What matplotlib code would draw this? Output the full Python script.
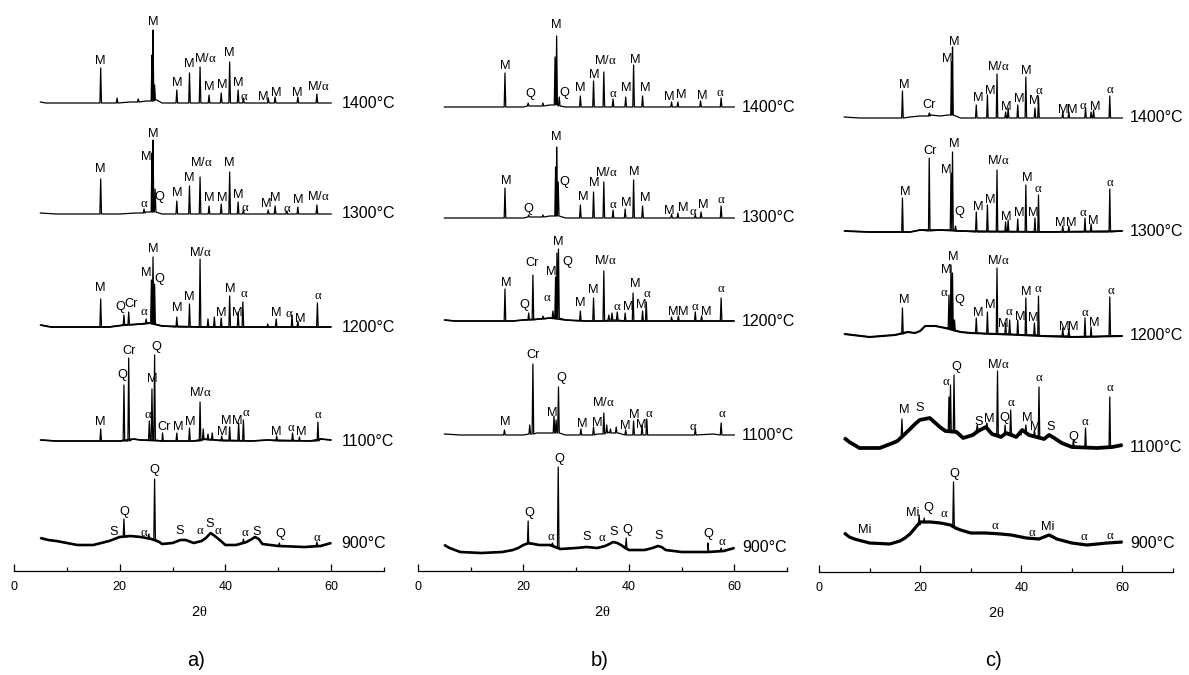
import numpy as np
import matplotlib
matplotlib.use('Agg')
import matplotlib.pyplot as plt

plt.rcParams['font.family'] = ['Liberation Sans', 'DejaVu Sans']
plt.rcParams['mathtext.fontset'] = 'custom'
plt.rcParams['mathtext.rm'] = 'Liberation Serif'
plt.rcParams['mathtext.it'] = 'Liberation Serif'

TEMPS = ['1400°C', '1300°C', '1200°C', '1100°C', '900°C']

# ---- sample a) ----
# background points (2theta, counts), peaks (2theta, foot, top), labels (text, 2theta, height)
A_1400_BG = [(5, 1), (6, 0), (15, 0), (19, 0), (22, 1), (25, 2), (27, 3), (28, 0), (45, 0), (60, 0)]
A_1400_PK = [(16.4, 0, 35), (19.5, 0, 5), (23.5, 1, 4), (26.1, 2, 48), (26.3, 2, 73), (26.6, 3, 18),
             (30.8, 0, 13), (33.2, 0, 30), (35.2, 0, 36), (36.9, 0, 8), (39.2, 0, 10), (40.8, 0, 41),
             (42.4, 0, 13), (43.4, 0, 5), (48.1, 0, 5), (49.4, 0, 6), (53.7, 0, 6), (57.3, 0, 9)]
A_1400_LB = [('M', 16.3, 42), ('M', 26.3, 81), ('M', 30.8, 20), ('M', 33.1, 39), ('M/α', 36.2, 45),
             ('M', 37.0, 16), ('M', 39.4, 18), ('M', 40.8, 50), ('M', 42.5, 20), ('α', 43.5, 6),
             ('M', 47.2, 6), ('M', 49.7, 10), ('M', 53.5, 10), ('M/α', 57.6, 16)]

A_1300_BG = [(5, 1), (8, 0), (20, 0), (23, 1), (25, 2), (28, 0), (60, 0)]
A_1300_PK = [(16.4, 0, 35), (24.6, 1, 5), (26.1, 2, 61), (26.3, 2, 74), (26.7, 2, 25), (30.8, 0, 13),
             (33.2, 0, 28), (35.2, 0, 37), (36.9, 0, 8), (39.2, 0, 10), (40.8, 0, 42), (42.4, 0, 12),
             (43.4, 0, 4), (48.1, 0, 4), (49.4, 0, 8), (51.6, 0, 3), (53.7, 0, 7), (57.3, 0, 9)]
A_1300_LB = [('M', 16.3, 45), ('α', 24.6, 10), ('M', 25.1, 57), ('M', 26.4, 80), ('Q', 27.5, 17),
             ('M', 30.8, 21), ('M', 33.2, 36), ('M/α', 35.4, 51), ('M', 37.0, 16), ('M', 39.4, 16),
             ('M', 40.8, 51), ('M', 42.5, 19), ('α', 43.7, 6), ('M', 47.7, 10), ('M', 49.4, 16),
             ('α', 51.6, 5), ('M', 53.7, 14), ('M/α', 57.6, 17)]

A_1200_BG = [(5, 2), (7, 0), (18, 0), (21, 2), (24, 3), (25.5, 4), (28, 1), (35, 0), (45, 0), (60, 0)]
A_1200_PK = [(16.4, 0, 28), (20.8, 2, 12), (21.7, 2, 15), (25.0, 3, 8), (26.0, 4, 47), (26.3, 4, 70),
             (26.6, 3, 43), (30.8, 0, 10), (33.2, 0, 23), (35.2, 0, 68), (36.7, 0, 8), (37.9, 0, 10),
             (39.2, 0, 9), (40.8, 0, 31), (42.4, 0, 15), (43.3, 0, 25), (48.0, 0, 3), (49.6, 0, 8),
             (52.6, 0, 12), (53.7, 0, 6), (57.4, 0, 24)]
A_1200_LB = [('M', 16.4, 39), ('Q', 20.1, 20), ('Cr', 22.2, 23), ('α', 24.6, 15), ('M', 25.1, 54),
             ('M', 26.4, 78), ('Q', 27.5, 48), ('M', 30.8, 19), ('M', 33.2, 30), ('M/α', 35.3, 75),
             ('M', 39.3, 14), ('M', 40.9, 38), ('M', 42.2, 14), ('α', 43.5, 33), ('M', 49.7, 14),
             ('α', 52.0, 13), ('M', 54.2, 8), ('α', 57.6, 31)]

A_1100_BG = [(5, 1), (8, 0), (20, 0), (22.5, 2), (24, 1), (28, 0), (34, 0), (36, 2), (38, 1),
             (45, 0), (48, 1), (56, 0), (58, 2), (60, 1)]
A_1100_PK = [(16.4, 0, 12), (20.8, 0, 56), (21.7, 0, 83), (25.6, 1, 20), (26.1, 1, 52), (26.6, 1, 86),
             (28.1, 0, 8), (30.8, 0, 8), (33.2, 0, 13), (35.2, 0, 39), (35.8, 1, 12), (36.7, 1, 7),
             (37.5, 1, 8), (39.3, 0, 5), (40.8, 0, 14), (42.5, 0, 18), (43.4, 0, 21), (49.7, 0, 5),
             (52.7, 0, 8), (54.0, 0, 4), (57.5, 0, 19)]
A_1100_LB = [('M', 16.4, 19), ('Q', 20.5, 66), ('Cr', 21.7, 90), ('α', 25.3, 26), ('M', 26.1, 62),
             ('Q', 26.9, 94), ('Cr', 28.3, 14), ('M', 31.0, 14), ('M', 33.3, 19), ('M/α', 35.3, 48),
             ('M', 39.4, 9), ('M', 40.2, 20), ('M', 42.3, 20), ('α', 44.0, 28), ('M', 49.7, 9),
             ('α', 52.5, 13), ('M', 54.4, 9), ('α', 57.6, 26)]

A_900_BG = [(5, 5), (6.5, 3), (8, 2), (10, 0), (12, -2), (15, -2), (16.5, 0), (18, 2), (19, 4), (20, 6),
            (22, 7), (24, 6), (26, 4), (27.5, 1), (28, -1), (30, 0), (31.5, 3), (32.5, 3), (34, 0),
            (35.5, 2), (36.3, 5), (37.2, 10), (38, 7), (38.7, 4), (40, -2), (42, -2), (44, 1), (45, 4),
            (45.6, 6), (46.3, 4), (47, -1), (50, -3), (55, -4), (58, -3), (60, 0)]
A_900_PK = [(20.8, 6, 24), (25.5, 5, 9), (26.6, 4, 64), (43.4, 0, 4), (50.2, -3, 0), (57.3, -3, 1)]
A_900_LB = [('S', 18.9, 11), ('Q', 20.8, 31), ('α', 24.6, 10), ('Q', 26.6, 73), ('S', 31.3, 12),
            ('α', 35.2, 12), ('S', 37.0, 19), ('α', 38.7, 12), ('α', 43.7, 10), ('S', 45.9, 11),
            ('Q', 50.4, 9), ('α', 57.3, 5)]

# ---- sample b) ----
B_1400_BG = [(5, 0), (20, 0), (22, 1), (25, 2), (28, 0), (60, 0)]
B_1400_PK = [(16.5, 0, 34), (20.9, 1, 4), (23.7, 1, 4), (26.0, 2, 50), (26.3, 2, 71), (26.8, 1, 10),
             (30.8, 0, 11), (33.3, 0, 26), (35.25, 0, 35), (37.0, 0, 8), (39.4, 0, 10), (40.9, 0, 42),
             (42.6, 0, 11), (48.1, 0, 5), (49.3, 0, 5), (53.6, 0, 6), (57.5, 0, 9)]
B_1400_LB = [('M', 16.6, 41), ('Q', 21.3, 13), ('M', 26.3, 82), ('Q', 27.7, 14), ('M', 30.8, 19),
             ('M', 33.5, 32), ('M/α', 35.6, 47), ('α', 37.1, 13), ('M', 39.5, 19), ('M', 41.2, 47),
             ('M', 43.2, 19), ('M', 47.7, 10), ('M', 49.9, 12), ('M', 53.9, 11), ('α', 57.3, 14)]

B_1300_BG = [(5, 0), (20, 0), (22, 1), (25, 2), (28, 0), (60, 0)]
B_1300_PK = [(16.5, 0, 30), (21.0, 1, 3), (23.7, 1, 3), (26.1, 2, 51), (26.3, 2, 71), (26.6, 2, 36),
             (30.8, 0, 13), (33.3, 0, 26), (35.25, 0, 36), (37.0, 0, 8), (39.3, 0, 9), (40.9, 0, 38),
             (42.6, 0, 12), (48.1, 0, 4), (49.3, 0, 5), (52.6, 0, 3), (53.7, 0, 6), (57.5, 0, 12)]
B_1300_LB = [('M', 16.7, 37), ('Q', 21.0, 9), ('M', 26.3, 81), ('Q', 27.8, 36), ('M', 31.3, 21),
             ('M', 33.5, 35), ('M/α', 35.8, 46), ('α', 37.0, 13), ('M', 39.5, 15), ('M', 41.1, 46),
             ('M', 43.2, 20), ('M', 47.7, 7), ('M', 50.3, 10), ('α', 52.3, 6), ('M', 54.2, 13),
             ('α', 57.5, 18)]

B_1200_BG = [(5, 1), (7, 0), (18, 0), (20, 1), (23, 2), (25, 3), (28, 1), (32, 0), (60, 0)]
B_1200_PK = [(16.5, 0, 32), (21.0, 1, 8), (21.8, 1, 46), (23.7, 2, 5), (25.6, 3, 10), (26.1, 3, 44),
             (26.35, 3, 68), (26.65, 3, 72), (30.8, 0, 10), (33.3, 0, 23), (35.25, 0, 50), (36.2, 1, 6),
             (36.8, 1, 8), (37.8, 1, 9), (39.3, 0, 8), (40.8, 0, 28), (42.6, 0, 10), (43.3, 0, 19),
             (48.1, 0, 4), (49.4, 0, 5), (52.6, 0, 9), (53.8, 0, 5), (57.5, 0, 23)]
B_1200_LB = [('M', 16.7, 38), ('Q', 20.1, 16), ('Cr', 21.7, 58), ('α', 24.6, 23), ('M', 25.2, 49),
             ('M', 26.7, 79), ('Q', 28.4, 59), ('M', 30.8, 18), ('M', 33.3, 31), ('M/α', 35.6, 60),
             ('α', 37.8, 14), ('M', 39.8, 14), ('M', 41.3, 37), ('M', 42.4, 16), ('α', 43.5, 27),
             ('M', 48.4, 9), ('M', 50.4, 9), ('α', 52.6, 14), ('M', 54.7, 9), ('α', 57.6, 32)]

B_1100_BG = [(5, 1), (8, 0), (20, 0), (22.5, 2), (25, 2), (28, 0), (34, 1), (36, 3), (38, 2), (40, 0),
             (45, 0), (50, 0), (56, 1), (60, 0)]
B_1100_PK = [(16.4, 0, 5), (21.2, 1, 10), (21.8, 1, 71), (25.8, 2, 19), (26.2, 2, 15), (26.65, 2, 48),
             (30.9, 0, 6), (33.3, 0, 8), (35.25, 1, 22), (35.8, 2, 10), (36.5, 2, 6), (37.6, 2, 8),
             (39.4, 0, 5), (40.9, 0, 14), (42.5, 0, 10), (43.4, 0, 16), (52.6, 0, 6), (57.5, 0, 12)]
B_1100_LB = [('M', 16.6, 13), ('Cr', 21.8, 80), ('M', 25.4, 22), ('Q', 27.1, 57), ('M', 31.1, 11),
             ('M', 34.0, 12), ('M/α', 35.1, 32), ('M', 39.4, 9), ('M', 41.0, 20), ('M', 42.3, 10),
             ('α', 43.9, 21), ('α', 52.3, 8), ('α', 57.7, 21)]

B_900_BG = [(5, 3), (6, 0), (8, -4), (12, -5), (16, -4), (18, -2), (19, 0), (20, 3), (21, 5), (23, 3),
            (25, 3), (26, 1), (27, -1), (30, 0), (32, 1), (34, 0), (35.5, 2), (36.3, 4), (37, 6),
            (37.8, 5), (38.5, 3), (40, -2), (43, -2), (44.5, 0), (45.5, 2), (46.2, 1), (47, -2),
            (50, -4), (55, -4), (58, -3), (60, 0)]
B_900_PK = [(20.9, 4, 27), (25.5, 3, 5), (26.6, 1, 81), (39.5, -1, 10), (55.0, -4, 5), (57.5, -3, 0)]
B_900_LB = [('Q', 21.1, 35), ('α', 25.3, 11), ('Q', 26.8, 89), ('S', 31.9, 11), ('α', 34.9, 10),
            ('S', 37.2, 16), ('Q', 39.8, 18), ('S', 45.6, 12), ('Q', 55.1, 14), ('α', 57.7, 6)]

# ---- sample c) ----
C_1400_BG = [(5, 1), (8, 0), (18, 1), (20, 2), (22, 3), (24, 2), (25.5, 3), (28, 0), (45, 0), (60, 0)]
C_1400_PK = [(16.5, 0, 27), (21.8, 2, 5), (26.2, 3, 56), (26.4, 3, 71), (31.1, 0, 13), (33.3, 0, 23),
             (35.2, 0, 44), (36.9, 0, 6), (37.4, 0, 10), (39.3, 0, 13), (40.9, 0, 41), (42.7, 0, 10),
             (43.4, 0, 21), (48.2, 0, 6), (49.4, 0, 6), (52.7, 0, 10), (53.8, 0, 6), (54.3, 0, 8),
             (57.5, 0, 22)]
C_1400_LB = [('M', 16.8, 33), ('Cr', 21.8, 13), ('M', 25.3, 59), ('M', 26.7, 76), ('M', 31.4, 20),
             ('M', 33.8, 27), ('M/α', 35.4, 51), ('M', 37.0, 11), ('M', 39.5, 19), ('M', 40.9, 47),
             ('M', 42.5, 17), ('α', 43.5, 27), ('M', 48.2, 8), ('M', 50.1, 8), ('α', 52.2, 12),
             ('M', 54.7, 11), ('α', 57.6, 28)]

C_1300_BG = [(5, 1), (10, 0), (18, 0), (20, 2), (24, 2), (28, 1), (45, 0), (60, 1)]
C_1300_PK = [(16.5, 0, 34), (21.8, 1, 74), (26.1, 2, 59), (26.4, 2, 80), (27.0, 1, 6), (31.1, 0, 20),
             (33.3, 0, 27), (35.2, 0, 62), (36.9, 0, 10), (37.4, 0, 12), (39.3, 0, 13), (40.9, 0, 47),
             (42.7, 0, 14), (43.4, 0, 37), (48.2, 0, 6), (49.4, 0, 6), (52.6, 0, 14), (53.8, 0, 8),
             (57.5, 0, 43)]
C_1300_LB = [('M', 17.0, 40), ('Cr', 21.9, 81), ('M', 25.2, 62), ('M', 26.7, 88), ('Q', 27.8, 20),
             ('M', 31.4, 25), ('M', 33.8, 32), ('M/α', 35.4, 71), ('M', 37.0, 15), ('M', 39.5, 19),
             ('M', 41.1, 54), ('M', 42.3, 19), ('α', 43.3, 43), ('M', 47.7, 9), ('M', 49.9, 9),
             ('α', 52.2, 19), ('M', 54.3, 11), ('α', 57.6, 49)]

C_1200_BG = [(5, 1), (10, -2), (15, 0), (17.5, 3), (19, 2), (20, 4), (21, 9), (23, 9), (25, 7), (28, 3),
             (30, 2), (40, 0), (44, -1), (50, -2), (60, -1)]
C_1200_PK = [(16.5, 1, 27), (25.7, 7, 40), (26.1, 6, 70), (26.4, 5, 62), (26.8, 4, 15), (31.1, 2, 17),
             (33.3, 1, 23), (35.2, 1, 67), (36.9, 1, 12), (37.7, 1, 15), (39.3, 0, 15), (40.9, 0, 37),
             (42.6, 0, 12), (43.4, 0, 39), (48.2, -1, 7), (49.4, -1, 6), (52.6, -2, 17), (53.8, -2, 8),
             (57.5, -1, 38)]
C_1200_LB = [('M', 16.8, 35), ('α', 24.7, 42), ('M', 25.2, 65), ('M', 26.5, 78), ('Q', 27.7, 35),
             ('M', 31.4, 22), ('M', 33.8, 30), ('M/α', 35.4, 74), ('M', 36.4, 11), ('α', 37.7, 23),
             ('M', 39.7, 18), ('M', 40.9, 43), ('M', 42.3, 17), ('α', 43.3, 46), ('M', 48.4, 8),
             ('M', 50.2, 8), ('α', 52.6, 22), ('M', 54.4, 12), ('α', 57.8, 44)]

C_1100_BG = [(5, 9), (6, 5), (8, -1), (12, -1), (14.6, 4), (15.5, 6), (17.4, 15), (19, 23), (19.9, 27),
             (21.9, 29), (23.9, 20), (25, 16), (27.2, 15), (28.5, 9), (30.4, 12), (31.5, 16), (33, 20),
             (34.2, 13), (36, 10), (37, 14), (39, 10), (40.2, 17), (41.5, 12), (43, 10), (44.5, 8),
             (45.5, 12), (46.5, 9), (48, 4), (50, 0), (55, -1), (58, 0), (60, 2)]
C_1100_PK = [(16.4, 10, 28), (25.7, 16, 50), (26.0, 16, 62), (26.7, 15, 72), (31.3, 17, 22), (33.2, 19, 24),
             (35.3, 13, 76), (36.8, 12, 22), (37.9, 14, 37), (39.8, 12, 15), (40.9, 14, 22), (42.6, 10, 17),
             (43.5, 10, 60), (50.3, 0, 7), (52.7, 0, 19), (57.5, 0, 50)]
C_1100_LB = [('M', 16.8, 37), ('S', 19.9, 39), ('α', 25.2, 65), ('Q', 27.2, 80), ('S', 31.6, 25),
             ('M', 33.6, 28), ('M/α', 35.4, 82), ('Q', 36.7, 29), ('α', 38.0, 44), ('M', 41.1, 29),
             ('M', 42.8, 20), ('α', 43.6, 69), ('S', 45.9, 20), ('Q', 50.3, 10), ('α', 52.7, 25),
             ('α', 57.6, 59)]

C_900_BG = [(5, 10), (6, 6), (7, 4), (10, 0), (14, -1), (16, 2), (17, 5), (18, 9), (19, 15), (20, 21),
            (22, 21), (24, 20), (26, 18), (27, 15), (28, 13), (30, 10), (33, 10), (36, 9), (38, 8),
            (41, 5), (43.5, 4), (44.5, 6), (45.5, 8), (46.3, 6), (47, 4), (50, 0), (53, -2), (57, 0),
            (60, 1)]
C_900_PK = [(19.8, 18, 28), (20.8, 21, 25), (26.6, 18, 61)]
C_900_LB = [('Mi', 9.1, 13), ('Mi', 18.5, 30), ('Q', 21.6, 35), ('α', 24.7, 29), ('Q', 26.8, 69),
            ('α', 34.9, 17), ('α', 42.1, 10), ('Mi', 45.3, 16), ('α', 52.5, 6), ('α', 57.6, 7)]

# vertical offsets of the stacked patterns and background scatter width (pt)
OFFSETS_A = [468, 357, 244, 130, 28]
OFFSETS_B = [464, 353, 250, 136, 23]
OFFSETS_C = [454, 340, 237, 125, 29]
NOISE_A = [0.9, 0.9, 1.3, 1.2, 1.9]
NOISE_B = [0.9, 0.9, 1.2, 1.0, 1.9]
NOISE_C = [1.0, 1.3, 1.5, 2.7, 2.3]


def make_trace(bg, peaks, w=0.15):
    pts = list(bg)
    for pos, foot, top in peaks:
        pts += [(pos - w, foot), (pos, top), (pos + w, foot)]
    pts.sort()
    x, y = zip(*pts)
    return np.array(x), np.array(y, dtype=float)


def fmt(lbl):
    return lbl.replace('α', r'$\alpha$')


panels = [
    ('a)', [14, 370, 571], OFFSETS_A, NOISE_A, 62.0,
     [(A_1400_BG, A_1400_PK, A_1400_LB), (A_1300_BG, A_1300_PK, A_1300_LB),
      (A_1200_BG, A_1200_PK, A_1200_LB), (A_1100_BG, A_1100_PK, A_1100_LB),
      (A_900_BG, A_900_PK, A_900_LB)]),
    ('b)', [418, 369, 571], OFFSETS_B, NOISE_B, 61.5,
     [(B_1400_BG, B_1400_PK, B_1400_LB), (B_1300_BG, B_1300_PK, B_1300_LB),
      (B_1200_BG, B_1200_PK, B_1200_LB), (B_1100_BG, B_1100_PK, B_1100_LB),
      (B_900_BG, B_900_PK, B_900_LB)]),
    ('c)', [819, 354, 572], OFFSETS_C, NOISE_C, 61.5,
     [(C_1400_BG, C_1400_PK, C_1400_LB), (C_1300_BG, C_1300_PK, C_1300_LB),
      (C_1200_BG, C_1200_PK, C_1200_LB), (C_1100_BG, C_1100_PK, C_1100_LB),
      (C_900_BG, C_900_PK, C_900_LB)]),
]

W, H = 1189, 675
fig = plt.figure(figsize=(W / 100, H / 100), dpi=100)

for letter, (left, width, axis_y), offsets, noise, temp_x, patterns in panels:
    ax = fig.add_axes([left / W, (H - axis_y) / H, width / W, axis_y / H])
    ax.set_xlim(0, 70)
    ax.set_ylim(0, axis_y)

    for (bg, pk, lb), off, nz, temp in zip(patterns, offsets, noise, TEMPS):
        bx, by = zip(*bg)
        if nz > 1.0:
            ax.plot(bx, np.array(by) + off, color='k', lw=nz, solid_joinstyle='round',
                    solid_capstyle='butt')
        x, y = make_trace(bg, pk)
        ax.plot(x, y + off, color='k', lw=0.9)
        for txt, px, py in lb:
            ax.text(px, py + off, fmt(txt), ha='center', va='center', fontsize=9.2)
        ax.text(temp_x, off, temp, ha='left', va='center', fontsize=11.5)

    for s in ['left', 'right', 'top']:
        ax.spines[s].set_visible(False)
    ax.spines['bottom'].set_linewidth(0.9)
    ax.set_yticks([])
    ax.set_xticks([0, 20, 40, 60])
    ax.set_xticks([10, 30, 50, 70], minor=True)
    ax.tick_params(axis='x', which='major', direction='in', length=5, width=0.9, pad=7, labelsize=9)
    ax.tick_params(axis='x', which='minor', direction='in', length=3, width=0.9)
    ax.set_xlabel(r'2$\theta$', fontsize=10.5, labelpad=9)

    ax.text(34.5, axis_y - 660, letter, ha='center', va='center', fontsize=14.5, clip_on=False)

fig.savefig('out.png', dpi=100)
